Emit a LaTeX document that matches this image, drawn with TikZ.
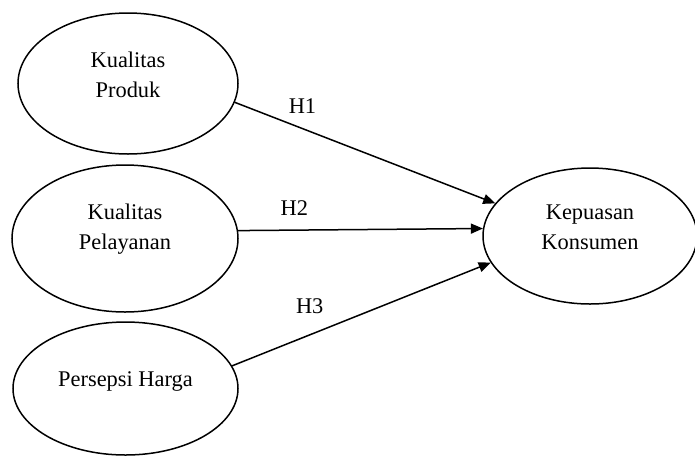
\documentclass[tikz,border=0pt]{standalone}
\usepackage{fontspec}
\setmainfont{Liberation Serif}
\usetikzlibrary{arrows.meta, % 箭头的library
  shapes.geometric}          % ellipse

\begin{document}
\begin{tikzpicture}[x=0.5pt,y=-0.5pt,>={Triangle[length=6pt,width=5pt]},
  % 全局设置:一个像素等于0.5pt,y轴向下
  % 以下定义了几个主要的style:
  every node/.style={font=\fontsize{11.2}{15}\selectfont},
  variabel/.style={ellipse,draw,line width=0.75pt,inner sep=0pt},
  % 椭圆里的文字稍微偏上
  isi/.style={align=center,yshift=4.5pt},
  panah/.style={->,line width=0.75pt},
  hipotesis/.style={above=7pt,inner sep=0pt}]

  \useasboundingbox (0,0) rectangle (695,456);

  \node [variabel,minimum width=110pt,minimum height=70.5pt] (kp) at (128,83.5)
    [label={[isi]center:Kualitas\\Produk}] {};
  \node [variabel,minimum width=113pt,minimum height=73.5pt] (kl) at (125,238.5)
    [label={[isi]center:Kualitas\\Pelayanan}] {};
  \node [variabel,minimum width=112.5pt,minimum height=66.5pt] (ph) at (125.5,388.5)
    [label={[isi,yshift=-1pt]center:Persepsi Harga}] {};
  \node [variabel,minimum width=107pt,minimum height=68pt] (kk) at (590,236)
    [label={[isi]center:Kepuasan\\Konsumen}] {};

  % 三条箭头都指向 kk
  \draw [panah] (kp.-10) -- node [hipotesis,pos=0.26] (h1) {H1} (kk.161);
  \draw [panah] (kl.4.3) -- node [hipotesis,pos=0.23] (h2) {H2} (kk.176.8);
  \draw [panah] (ph.12.4) -- node [hipotesis,pos=0.30,above=3pt] (h3) {H3} (kk.-165);

\end{tikzpicture}
\end{document}
